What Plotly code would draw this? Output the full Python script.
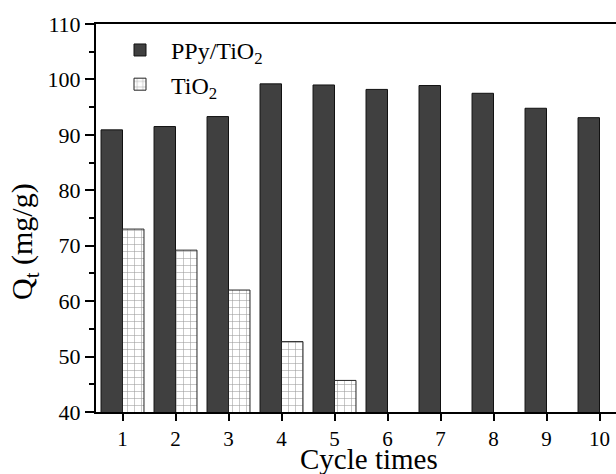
import plotly.graph_objects as go

cycles = [1, 2, 3, 4, 5, 6, 7, 8, 9, 10]
ppy_tio2 = [90.9, 91.5, 93.3, 99.2, 99.0, 98.2, 98.9, 97.5, 94.8, 93.1]
tio2_cycles = [1, 2, 3, 4, 5]
tio2 = [73.0, 69.2, 62.0, 52.7, 45.7]
y_ticks = [40, 50, 60, 70, 80, 90, 100, 110]

W = 0.405
FONT = "Liberation Serif"

fig = go.Figure()
fig.add_trace(go.Bar(
    x=cycles, y=ppy_tio2, name="PPy/TiO<sub>2</sub>",
    width=W, offset=-W,
    marker=dict(color="#404040", line=dict(color="#111111", width=1)),
))
fig.add_trace(go.Bar(
    x=tio2_cycles, y=tio2, name="TiO<sub>2</sub>",
    width=W, offset=0,
    marker=dict(color="white", line=dict(color="#222222", width=1),
                pattern=dict(shape="+", fgcolor="#333333", bgcolor="white",
                             size=7, solidity=0.15)),
))

fig.update_layout(
    width=616, height=474,
    margin=dict(l=96, r=0, t=24, b=62),
    plot_bgcolor="white", paper_bgcolor="white",
    barmode="overlay",
    font=dict(family=FONT, color="black", size=21),
    showlegend=True,
    legend=dict(x=0.025, y=0.99, xanchor="left", yanchor="top",
                bgcolor="rgba(0,0,0,0)", font=dict(size=24, family=FONT),
                itemwidth=52, tracegroupgap=4),
    xaxis=dict(
        range=[0.5, 0.5 + 520 / 53.0],
        tickmode="array", tickvals=cycles, ticktext=[str(c) for c in cycles],
        ticks="outside", ticklen=7, tickwidth=2, tickcolor="black",
        showline=True, linecolor="black", linewidth=2, mirror=True,
        showgrid=False, zeroline=False,
        tickfont=dict(size=21, family=FONT, color="black"),
    ),
    yaxis=dict(
        range=[40, 110], tickmode="array", tickvals=y_ticks,
        ticks="outside", ticklen=9, tickwidth=2, tickcolor="black",
        minor=dict(dtick=5, ticks="outside", ticklen=5, tickwidth=2, tickcolor="black"),
        showline=True, linecolor="black", linewidth=2, mirror=False,
        showgrid=False, zeroline=False,
        tickfont=dict(size=22, family=FONT, color="black"),
    ),
    annotations=[
        dict(text="Cycle times", xref="paper", yref="paper",
             x=0.525, y=-0.076, xanchor="center", yanchor="top",
             showarrow=False, font=dict(size=29, family=FONT, color="black")),
        dict(text="Q<sub>t</sub> (mg/g)", xref="paper", yref="paper",
             x=-0.137, y=0.44, xanchor="center", yanchor="middle",
             textangle=-90, showarrow=False,
             font=dict(size=30, family=FONT, color="black")),
    ],
)

fig.write_html("out.html")
